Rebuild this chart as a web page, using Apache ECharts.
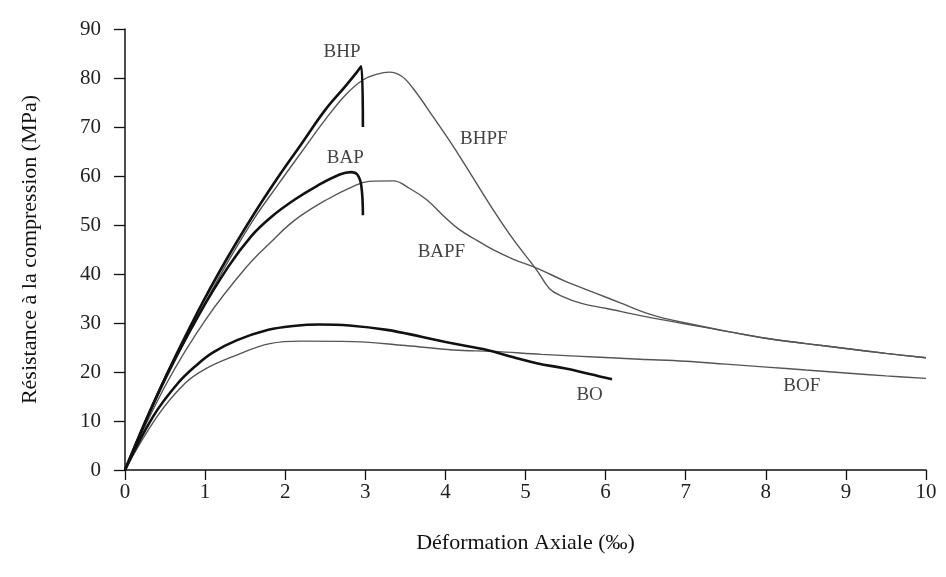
<!DOCTYPE html>
<html>
<head>
<meta charset="utf-8">
<script src="https://cdn.jsdelivr.net/npm/echarts@6/dist/echarts.min.js"></script>
<style>html,body{margin:0;padding:0;background:#fff;}#c{width:946px;height:577px;}</style>
</head>
<body>
<div id="c"></div>
<script>
// Tick settings
const xTicks = [0,1,2,3,4,5,6,7,8,9,10];
const yTicks = [0,10,20,30,40,50,60,70,80,90];

// BHP (thick)
const bhpX = [0, 0.45, 0.9, 1.25, 1.6, 1.9, 2.2, 2.5, 2.75, 2.9, 2.95, 2.97];
const bhpY = [0, 17, 32, 42.5, 52, 59.5, 66.5, 73.5, 78.3, 81.3, 82.4, 70];

// BHPF (thin)
const bhpfX = [0, 0.45, 0.9, 1.25, 1.6, 1.9, 2.2, 2.5, 2.75, 2.97, 3.15, 3.3, 3.45, 3.6, 3.85, 4.1, 4.35, 4.6, 4.85, 5.14, 5.3, 5.45, 5.7, 6.0, 6.5, 7.0, 7.55, 8.0, 8.5, 9.0, 9.5, 10.0];
const bhpfY = [0, 16.5, 31, 41.5, 51, 58, 64.8, 71.5, 76.5, 79.6, 80.8, 81.2, 80.4, 77.8, 72, 66, 59.5, 53, 47, 40.8, 37, 35.5, 34, 33, 31.3, 29.8, 28.2, 26.9, 25.8, 24.8, 23.8, 22.9];

// BAP (thick)
const bapX = [0, 0.45, 0.9, 1.29, 1.58, 1.83, 2.12, 2.4, 2.68, 2.82, 2.9, 2.95, 2.97];
const bapY = [0, 17, 31, 41.5, 47.8, 51.7, 55.2, 58, 60.3, 60.8, 60.3, 58, 52];

// BAPF (thin)
const bapfX = [0, 0.52, 1.02, 1.52, 1.82, 2.12, 2.5, 2.89, 3.05, 3.35, 3.55, 3.77, 4.0, 4.18, 4.4, 4.6, 4.85, 5.14, 5.5, 5.89, 6.2, 6.51, 6.72, 7.0, 7.55, 8.0, 8.5, 9.0, 9.5, 10.0];
const bapfY = [0, 17.7, 31, 41.5, 46.5, 51, 55, 58.2, 58.9, 59, 57.5, 55.1, 51.5, 49, 46.8, 44.9, 43, 41.2, 38.5, 36, 34, 32, 31, 30, 28.2, 26.9, 25.8, 24.8, 23.8, 22.9];

// BO (thick)
const boX = [0, 0.35, 0.66, 0.9, 1.1, 1.4, 1.79, 2.1, 2.43, 2.8, 3.27, 3.7, 4.1, 4.52, 4.85, 5.14, 5.5, 5.8, 6.08];
const boY = [0, 10.9, 17.7, 21.5, 24, 26.5, 28.6, 29.4, 29.7, 29.5, 28.6, 27.2, 25.8, 24.5, 23, 21.8, 20.7, 19.6, 18.5];

// BOF (thin)
const bofX = [0, 0.4, 0.75, 1.0, 1.37, 1.81, 2.2, 2.85, 3.5, 4.1, 4.6, 5.2, 5.93, 6.43, 7.0, 7.5, 8.01, 8.5, 9.0, 9.5, 10.0];
const bofY = [0, 10.9, 17.7, 20.6, 23.3, 25.8, 26.3, 26.2, 25.4, 24.5, 24.2, 23.6, 23, 22.6, 22.2, 21.6, 21, 20.4, 19.8, 19.2, 18.7];

// Curve labels (anchor in data units)
const labelNames = ['BHP', 'BAP', 'BHPF', 'BAPF', 'BO', 'BOF'];
const labelX = [2.71, 2.75, 4.48, 3.95, 5.8, 8.45];
const labelY = [85.3, 63.7, 67.6, 44.5, 15.3, 17.1];

const zip = (xs, ys) => xs.map((x, i) => [x, ys[i]]);
const FONT = 'Liberation Serif';

function lineSeries(name, xs, ys, thick) {
  return {
    name: name,
    type: 'line',
    data: zip(xs, ys),
    showSymbol: false,
    symbol: 'none',
    smooth: 0.4,
    lineStyle: thick ? { color: '#111', width: 2.6 } : { color: '#555', width: 1.4 },
    z: thick ? 3 : 2
  };
}

const chart = echarts.init(document.getElementById('c'), null, { renderer: 'canvas' });
chart.setOption({
  animation: false,
  backgroundColor: '#fff',
  grid: { left: 125, right: 20, top: 29, bottom: 107, containLabel: false },
  xAxis: {
    type: 'value',
    min: xTicks[0], max: xTicks[xTicks.length - 1], interval: 1,
    name: 'Déformation Axiale (‰)',
    nameLocation: 'middle',
    nameGap: 62,
    nameTextStyle: { fontFamily: FONT, fontSize: 22, color: '#111' },
    axisLine: { show: true, onZero: false, lineStyle: { color: '#111', width: 1.5 } },
    axisTick: { show: true, inside: false, length: 10, lineStyle: { color: '#111', width: 1.3 } },
    axisLabel: { fontFamily: FONT, fontSize: 21, color: '#222', margin: 12 },
    splitLine: { show: false }
  },
  yAxis: {
    type: 'value',
    min: yTicks[0], max: yTicks[yTicks.length - 1], interval: 10,
    name: 'Résistance à la compression (MPa)',
    nameLocation: 'middle',
    nameGap: 84,
    nameRotate: 90,
    nameTextStyle: { fontFamily: FONT, fontSize: 22, color: '#111' },
    axisLine: { show: true, onZero: false, lineStyle: { color: '#111', width: 1.5 } },
    axisTick: { show: true, inside: false, length: 11, lineStyle: { color: '#111', width: 1.3 } },
    axisLabel: { fontFamily: FONT, fontSize: 21, color: '#222', margin: 24 },
    splitLine: { show: false }
  },
  series: [
    lineSeries('BHPF', bhpfX, bhpfY, false),
    lineSeries('BAPF', bapfX, bapfY, false),
    lineSeries('BOF', bofX, bofY, false),
    lineSeries('BHP', bhpX, bhpY, true),
    lineSeries('BAP', bapX, bapY, true),
    lineSeries('BO', boX, boY, true),
    {
      name: 'labels',
      type: 'scatter',
      symbolSize: 0,
      silent: true,
      data: labelNames.map((n, i) => ({ name: n, value: [labelX[i], labelY[i]] })),
      label: {
        show: true,
        position: 'inside',
        formatter: p => p.name,
        fontFamily: FONT,
        fontSize: 19,
        color: '#111'
      },
      z: 5
    }
  ]
});
</script>
</body>
</html>
